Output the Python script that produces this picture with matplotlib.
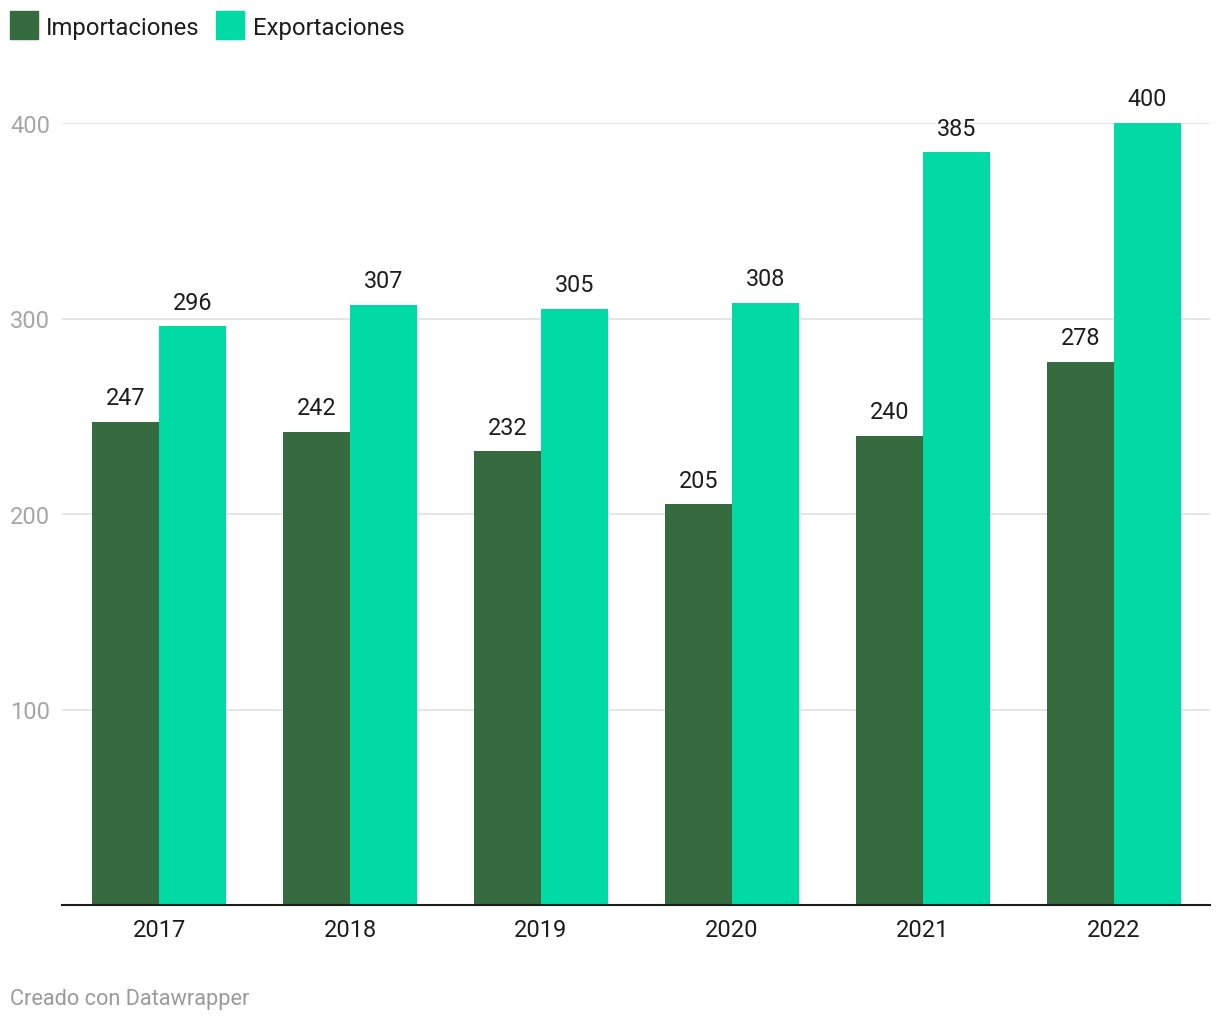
import matplotlib
matplotlib.use("Agg")
import matplotlib.pyplot as plt
import matplotlib.patches as mpatches
import matplotlib.transforms as mtrans
import numpy as np

plt.rcParams['font.family'] = ['Roboto', 'DejaVu Sans']

years = ['2017', '2018', '2019', '2020', '2021', '2022']
importaciones = [247, 242, 232, 205, 240, 278]
exportaciones = [296, 307, 305, 308, 385, 400]
yticks = [100, 200, 300, 400]

c_imp = '#366a3f'
c_exp = '#00dba6'

W, H = 1220, 1020
fig = plt.figure(figsize=(W / 100, H / 100), dpi=100)
ax = fig.add_axes([62 / W, 1 - 906 / H, (1210 - 62) / W, (906 - 124) / H])

x = np.arange(len(years))
bw = 0.35
b1 = ax.bar(x - bw / 2, importaciones, bw, color=c_imp, zorder=2)
b2 = ax.bar(x + bw / 2, exportaciones, bw, color=c_exp, zorder=2)

for bars, vals in ((b1, importaciones), (b2, exportaciones)):
    for r, v in zip(bars, vals):
        ax.text(r.get_x() + r.get_width() / 2, v + 6.5, str(v), ha='center', va='bottom',
                fontsize=16.8, color='#1d1d1d', clip_on=False)

ax.set_xlim(-0.508, 5.503)
ax.set_ylim(0, 400)
ax.set_yticks(yticks)
ax.set_yticklabels([])
ax.tick_params(axis='y', length=0)
ax.grid(axis='y', color='#e0e0e0', linewidth=1.2, zorder=0)
tr = mtrans.blended_transform_factory(fig.transFigure, ax.transData)
for yv in yticks:
    ax.text(10 / W, yv, str(yv), transform=tr,
            ha='left', va='center_baseline', fontsize=17, color='#a6a6a6')

ax.set_xticks(x)
ax.set_xticklabels(years, fontsize=17, color='#1d1d1d')
ax.tick_params(axis='x', length=0, pad=9.5)
for s in ('top', 'right', 'left'):
    ax.spines[s].set_visible(False)
ax.spines['bottom'].set_color('#1d1d1d')
ax.spines['bottom'].set_linewidth(1.5)
ax.spines['bottom'].set_zorder(3)

# legend
fig.patches.append(mpatches.Rectangle((10 / W, 1 - 40 / H), 28 / W, 28 / H, color=c_imp,
                                      transform=fig.transFigure, figure=fig))
fig.text(46 / W, 1 - 25.5 / H, 'Importaciones', fontsize=17.2, color='#1d1d1d', va='center_baseline')
fig.patches.append(mpatches.Rectangle((216 / W, 1 - 40 / H), 28 / W, 28 / H, color=c_exp,
                                      transform=fig.transFigure, figure=fig))
fig.text(253 / W, 1 - 25.5 / H, 'Exportaciones', fontsize=17.2, color='#1d1d1d', va='center_baseline')

fig.text(10 / W, 1 - 997 / H, 'Creado con Datawrapper', fontsize=15.7, color='#9a9a9a',
         va='center_baseline')

fig.savefig('out.png', dpi=100)
